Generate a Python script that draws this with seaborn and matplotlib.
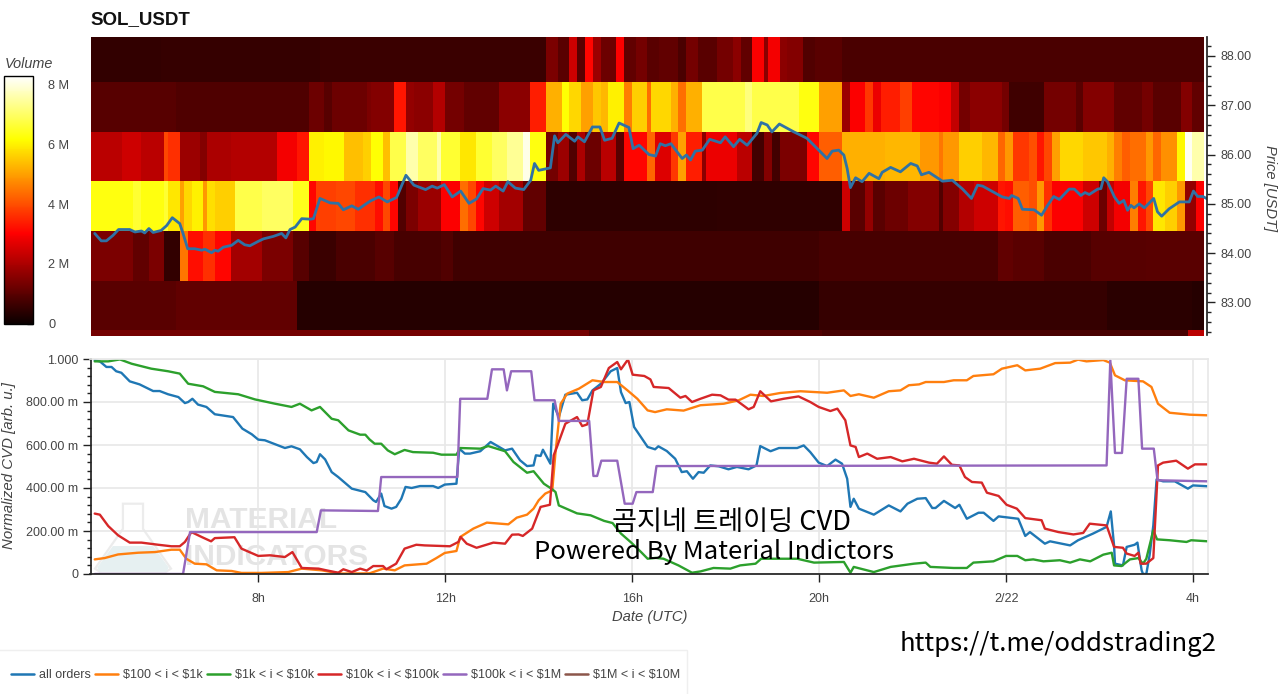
import numpy as np
import pandas as pd
import matplotlib
matplotlib.use("Agg")
import matplotlib.pyplot as plt
from matplotlib.lines import Line2D
from matplotlib.patches import Polygon, Rectangle
from matplotlib.ticker import MultipleLocator, FixedLocator
import seaborn as sns

# heatmap rows: start hour of each run and volume (millions), top row first
row_a_start = [4.41, 5.9, 9.3, 14.09, 14.33, 14.58, 14.76, 14.91, 15.08, 15.29, 15.58, 15.76, 16.01, 16.26, 16.51, 16.93, 17.08, 17.39, 17.78, 18.1, 18.28, 18.57, 18.75, 18.89, 19.09, 19.26, 19.6, 19.89, 20.42]
row_a_vol = [0.5, 0.55, 0.6, 1.4, 1.0, 2.4, 1.0, 3.1, 1.8, 1.2, 3.0, 1.1, 1.3, 1.0, 1.1, 0.8, 1.3, 1.0, 1.3, 1.6, 1.1, 3.0, 1.6, 2.9, 1.6, 1.5, 0.9, 1.0, 0.78]
row_b_start = [4.41, 6.2, 9.07, 9.36, 9.57, 10.29, 10.4, 10.9, 11.08, 11.26, 11.72, 11.94, 12.4, 13.11, 13.76, 14.09, 14.44, 14.59, 14.9, 15.08, 15.26, 15.44, 15.76, 15.94, 16.26, 16.4, 16.49, 16.75, 16.93, 17.08, 17.42, 18.39, 18.57, 19.53, 19.92, 20.42, 20.58, 20.96, 21.09, 21.26, 21.74, 21.92, 22.5, 22.75, 22.93, 23.18, 23.89, 24.07, 24.75, 25.46, 25.6, 26.25, 26.89, 27.1, 27.74, 27.96]
row_b_vol = [0.95, 0.85, 1.2, 0.95, 1.2, 1.4, 1.5, 3.3, 1.7, 1.6, 2.1, 1.3, 1.1, 1.6, 3.4, 5.2, 6.2, 5.7, 5.0, 5.5, 5.3, 6.0, 4.6, 5.6, 4.4, 5.7, 5.7, 5.2, 4.4, 5.2, 6.8, 7.2, 6.8, 6.3, 5.0, 1.8, 3.0, 3.7, 2.8, 3.4, 3.8, 3.1, 3.0, 2.3, 1.3, 1.6, 1.3, 0.65, 1.3, 1.0, 1.5, 1.1, 1.3, 1.0, 1.5, 1.1]
row_c_start = [4.41, 5.07, 5.43, 5.91, 6.07, 6.25, 6.71, 6.89, 7.36, 8.39, 8.75, 9.07, 9.36, 9.75, 10.21, 10.4, 10.58, 10.76, 11.08, 11.4, 11.76, 11.9, 12.27, 12.58, 12.97, 13.29, 13.58, 13.76, 14.09, 14.4, 14.58, 14.76, 14.91, 15.29, 15.58, 15.76, 16.26, 16.44, 16.75, 16.93, 17.08, 17.42, 17.57, 18.17, 18.57, 18.75, 18.92, 19.09, 19.74, 19.92, 20.42, 21.39, 22.1, 22.5, 22.6, 22.93, 23.46, 23.76, 23.92, 24.09, 24.42, 24.6, 24.76, 24.92, 25.09, 25.6, 26.1, 26.28, 26.44, 26.6, 26.92, 27.1, 27.28, 27.6, 27.76, 27.96]
row_c_vol = [2.2, 2.4, 2.2, 3.9, 3.6, 1.8, 1.5, 2.0, 2.1, 2.9, 3.3, 6.0, 6.1, 5.4, 5.6, 6.2, 5.4, 6.8, 7.6, 7.0, 7.6, 6.6, 5.9, 6.6, 7.0, 7.4, 8.1, 6.3, 1.3, 1.8, 0.9, 2.0, 1.2, 2.2, 1.0, 3.1, 4.3, 2.6, 3.7, 5.0, 3.4, 1.6, 2.8, 2.2, 0.7, 1.5, 0.7, 1.4, 3.1, 4.2, 5.2, 5.3, 4.9, 4.5, 4.9, 5.6, 5.3, 4.3, 4.9, 3.7, 4.0, 3.3, 3.9, 5.0, 5.7, 5.5, 5.2, 4.6, 4.2, 4.4, 4.9, 4.3, 4.8, 6.1, 8.2, 7.6]
row_d_start = [4.41, 5.29, 5.43, 5.91, 6.07, 6.25, 6.39, 6.57, 6.75, 6.89, 7.07, 7.43, 8.07, 8.71, 9.07, 9.21, 9.64, 10.04, 10.46, 10.58, 10.76, 10.91, 11.08, 11.4, 11.9, 12.26, 12.41, 12.58, 12.76, 13.11, 13.58, 14.09, 17.75, 20.42, 20.58, 20.96, 21.09, 21.39, 21.89, 22.5, 22.6, 22.93, 23.28, 23.76, 23.92, 24.09, 24.42, 24.6, 24.76, 24.92, 25.6, 25.96, 26.1, 26.28, 26.6, 26.78, 26.92, 27.1, 27.39, 27.6, 27.76, 28.0]
row_d_vol = [6.3, 6.6, 6.3, 6.6, 5.9, 5.0, 5.7, 6.0, 4.9, 5.8, 5.6, 6.8, 7.0, 6.4, 3.1, 3.8, 3.9, 3.6, 3.2, 3.9, 3.1, 0.9, 1.4, 1.8, 3.0, 4.4, 3.9, 3.1, 2.4, 1.9, 1.1, 0.45, 0.48, 2.4, 1.0, 1.7, 1.0, 1.2, 1.5, 0.9, 1.5, 2.1, 2.4, 3.3, 3.2, 4.2, 4.0, 4.9, 3.6, 3.0, 2.4, 1.2, 2.3, 2.9, 4.6, 3.3, 3.9, 5.9, 5.6, 4.9, 1.7, 3.0]
row_e_start = [4.41, 5.29, 5.65, 5.92, 6.25, 6.43, 6.79, 7.07, 7.39, 8.07, 8.71, 9.07, 9.64, 10.46, 10.9, 11.83, 12.1, 19.96, 23.75, 24.1, 24.75, 25.8, 26.97]
row_e_vol = [1.4, 1.1, 1.4, 0.5, 4.5, 3.2, 3.6, 3.1, 1.9, 1.4, 0.95, 0.6, 0.8, 0.95, 0.75, 0.9, 0.65, 0.75, 1.1, 1.0, 0.8, 0.95, 1.0]
row_f_start = [4.41, 6.2, 8.75, 19.92, 26.08, 27.96]
row_f_vol = [1.0, 1.1, 0.33, 0.52, 0.42, 0.35]
row_g_start = [4.41, 15.0, 20.0, 27.85]
row_g_vol = [1.3, 0.9, 0.75, 2.2]

vol_ticks = [0, 2, 4, 6, 8]
vol_labels = ["0", "2 M", "4 M", "6 M", "8 M"]

price_hours = [4.5, 4.64, 4.75, 4.89, 5.01, 5.25, 5.36, 5.5, 5.57, 5.66, 5.75, 5.92, 6.04, 6.16, 6.32, 6.39, 6.49, 6.64, 6.79, 6.86, 7.0, 7.07, 7.14, 7.25, 7.43, 7.57, 7.71, 7.82, 8.0, 8.11, 8.32, 8.5, 8.59, 8.68, 8.79, 8.93, 9.11, 9.18, 9.32, 9.44, 9.54, 9.71, 9.82, 10.0, 10.14, 10.29, 10.4, 10.58, 10.76, 10.96, 11.16, 11.33, 11.58, 11.72, 11.83, 11.98, 12.15, 12.33, 12.51, 12.67, 12.81, 12.97, 13.08, 13.24, 13.34, 13.5, 13.68, 13.83, 13.91, 14.0, 14.25, 14.34, 14.41, 14.58, 14.77, 14.84, 14.98, 15.15, 15.31, 15.41, 15.57, 15.72, 15.93, 16.02, 16.15, 16.36, 16.5, 16.6, 16.71, 16.83, 17.07, 17.16, 17.25, 17.35, 17.5, 17.66, 17.89, 17.99, 18.17, 18.3, 18.46, 18.67, 18.76, 18.89, 18.99, 19.15, 19.46, 19.57, 19.74, 19.92, 20.17, 20.28, 20.42, 20.53, 20.6, 20.67, 20.78, 20.92, 21.07, 21.28, 21.35, 21.53, 21.74, 21.96, 22.1, 22.19, 22.35, 22.64, 22.85, 23.07, 23.26, 23.39, 23.5, 23.75, 23.92, 24.07, 24.12, 24.26, 24.35, 24.6, 24.76, 24.89, 25.02, 25.14, 25.35, 25.46, 25.6, 25.69, 25.78, 25.96, 26.03, 26.09, 26.17, 26.32, 26.42, 26.52, 26.6, 26.67, 26.74, 26.85, 26.96, 27.16, 27.24, 27.33, 27.49, 27.71, 27.92, 28.01, 28.1, 28.21, 28.33]
price_usdt = [84.4, 84.25, 84.25, 84.36, 84.48, 84.48, 84.43, 84.45, 84.41, 84.5, 84.42, 84.46, 84.56, 84.72, 84.6, 84.4, 84.09, 84.09, 84.06, 84.08, 84.01, 84.06, 84.04, 84.12, 84.16, 84.26, 84.17, 84.15, 84.24, 84.29, 84.34, 84.4, 84.31, 84.48, 84.53, 84.7, 84.69, 84.7, 85.11, 85.06, 85.02, 85.01, 84.88, 84.96, 84.89, 84.99, 85.06, 85.14, 85.04, 85.13, 85.58, 85.38, 85.29, 85.36, 85.32, 85.39, 85.14, 85.26, 85.01, 85.1, 85.31, 85.28, 85.36, 85.26, 85.45, 85.32, 85.29, 85.48, 85.82, 85.68, 85.73, 86.38, 86.24, 86.41, 86.27, 86.36, 86.26, 86.56, 86.56, 86.29, 86.33, 86.64, 86.55, 86.12, 86.19, 86.0, 85.97, 86.22, 86.18, 86.22, 85.92, 85.99, 85.89, 86.07, 86.09, 86.31, 86.24, 86.36, 86.16, 86.31, 86.19, 86.43, 86.65, 86.6, 86.46, 86.62, 86.46, 86.41, 86.33, 86.16, 85.92, 86.07, 86.09, 85.99, 85.72, 85.33, 85.53, 85.45, 85.62, 85.51, 85.64, 85.74, 85.65, 85.82, 85.77, 85.59, 85.64, 85.46, 85.48, 85.3, 85.11, 85.38, 85.36, 85.23, 85.14, 85.11, 85.17, 85.11, 84.89, 84.88, 84.77, 84.97, 85.15, 85.09, 85.3, 85.3, 85.17, 85.23, 85.19, 85.3, 85.31, 85.53, 85.45, 85.14, 85.01, 85.07, 84.87, 84.97, 84.92, 85.0, 84.92, 85.11, 84.84, 84.75, 84.9, 85.04, 85.04, 85.26, 85.15, 85.15, 85.09]

all_hours = [4.5, 4.61, 4.75, 4.86, 4.96, 5.07, 5.25, 5.46, 5.75, 5.89, 6.07, 6.29, 6.43, 6.5, 6.59, 6.71, 6.89, 7.07, 7.46, 7.66, 7.86, 8.0, 8.14, 8.57, 8.71, 8.89, 9.04, 9.18, 9.25, 9.32, 9.43, 9.57, 9.71, 10.0, 10.29, 10.46, 10.52, 10.63, 10.7, 10.85, 10.95, 11.06, 11.15, 11.28, 11.46, 11.74, 11.85, 11.99, 12.24, 12.3, 12.42, 12.53, 12.75, 12.97, 13.28, 13.43, 13.6, 13.75, 13.89, 13.94, 14.04, 14.09, 14.25, 14.31, 14.43, 14.57, 14.82, 14.93, 15.04, 15.15, 15.33, 15.54, 15.68, 15.76, 15.86, 15.94, 16.04, 16.33, 16.49, 16.56, 16.74, 16.92, 17.06, 17.17, 17.3, 17.42, 17.53, 17.67, 17.85, 18.06, 18.24, 18.49, 18.66, 18.74, 18.96, 19.14, 19.53, 19.67, 19.81, 19.99, 20.17, 20.35, 20.49, 20.6, 20.67, 20.74, 20.85, 21.17, 21.49, 21.74, 21.89, 22.1, 22.28, 22.42, 22.49, 22.67, 22.91, 23.0, 23.16, 23.41, 23.52, 23.73, 23.84, 24.26, 24.41, 24.51, 24.83, 24.94, 25.37, 25.54, 25.86, 26.15, 26.24, 26.31, 26.33, 26.5, 26.58, 26.75, 26.81, 26.9, 26.93, 27.0, 27.07, 27.15, 27.22, 27.36, 27.61, 27.89, 28.0, 28.32]
all_cvd = [0.994, 0.989, 0.963, 0.963, 0.943, 0.936, 0.896, 0.882, 0.851, 0.851, 0.836, 0.823, 0.795, 0.8, 0.815, 0.788, 0.777, 0.743, 0.73, 0.676, 0.65, 0.625, 0.622, 0.586, 0.594, 0.58, 0.544, 0.516, 0.521, 0.557, 0.533, 0.474, 0.451, 0.397, 0.381, 0.343, 0.335, 0.374, 0.316, 0.304, 0.312, 0.35, 0.405, 0.4, 0.409, 0.409, 0.4, 0.416, 0.42, 0.583, 0.56, 0.56, 0.571, 0.614, 0.575, 0.583, 0.529, 0.502, 0.505, 0.552, 0.549, 0.578, 0.513, 0.792, 0.73, 0.834, 0.843, 0.808, 0.812, 0.854, 0.885, 0.943, 0.958, 0.846, 0.795, 0.8, 0.684, 0.591, 0.58, 0.594, 0.572, 0.536, 0.474, 0.478, 0.443, 0.474, 0.471, 0.505, 0.501, 0.487, 0.498, 0.487, 0.505, 0.595, 0.571, 0.586, 0.586, 0.598, 0.567, 0.518, 0.502, 0.532, 0.513, 0.443, 0.312, 0.35, 0.304, 0.276, 0.319, 0.291, 0.327, 0.35, 0.353, 0.307, 0.307, 0.34, 0.307, 0.322, 0.257, 0.285, 0.285, 0.247, 0.268, 0.257, 0.177, 0.195, 0.141, 0.152, 0.133, 0.157, 0.188, 0.219, 0.291, 0.133, 0.048, 0.04, 0.126, 0.136, 0.146, 0.017, 0.0, 0.0, 0.087, 0.226, 0.44, 0.431, 0.431, 0.397, 0.412, 0.408]

small_hours = [4.5, 4.71, 5.0, 5.43, 5.79, 6.14, 6.32, 6.46, 6.64, 6.89, 7.11, 7.43, 7.64, 8.07, 8.64, 8.93, 9.36, 9.57, 9.79, 10.38, 10.67, 10.92, 11.13, 11.6, 11.81, 11.99, 12.24, 12.32, 12.6, 12.89, 13.35, 13.53, 13.75, 13.89, 14.0, 14.14, 14.29, 14.36, 14.47, 14.61, 14.86, 15.15, 15.4, 15.68, 15.9, 16.11, 16.33, 16.49, 16.74, 17.1, 17.46, 17.96, 18.28, 18.53, 18.81, 19.17, 19.6, 20.17, 20.53, 20.67, 20.85, 21.17, 21.49, 21.74, 21.92, 22.14, 22.28, 22.67, 22.88, 23.16, 23.3, 23.73, 23.91, 24.24, 24.41, 24.73, 25.05, 25.37, 25.54, 25.72, 26.08, 26.22, 26.33, 26.54, 26.93, 27.11, 27.25, 27.5, 27.93, 28.32]
small_cvd = [0.068, 0.074, 0.091, 0.099, 0.102, 0.113, 0.113, 0.071, 0.048, 0.045, 0.017, 0.014, 0.005, 0.005, 0.009, 0.025, 0.017, 0.009, 0.002, 0.003, 0.025, 0.017, 0.04, 0.048, 0.074, 0.098, 0.107, 0.172, 0.211, 0.239, 0.231, 0.262, 0.276, 0.304, 0.343, 0.374, 0.389, 0.567, 0.792, 0.839, 0.862, 0.901, 0.893, 0.893, 0.854, 0.815, 0.761, 0.753, 0.766, 0.76, 0.785, 0.792, 0.808, 0.834, 0.828, 0.842, 0.85, 0.843, 0.854, 0.828, 0.836, 0.82, 0.85, 0.854, 0.878, 0.882, 0.893, 0.893, 0.901, 0.901, 0.921, 0.929, 0.955, 0.971, 0.947, 0.955, 0.981, 0.983, 0.997, 0.989, 0.995, 0.983, 0.924, 0.901, 0.896, 0.87, 0.792, 0.75, 0.741, 0.738]

mid_hours = [4.5, 4.79, 5.04, 5.29, 5.71, 6.07, 6.32, 6.5, 6.82, 7.07, 7.57, 7.93, 8.36, 8.71, 8.89, 9.14, 9.32, 9.57, 9.71, 9.93, 10.18, 10.29, 10.38, 10.49, 10.63, 10.77, 10.92, 11.13, 11.31, 11.74, 11.92, 12.24, 12.32, 12.75, 12.92, 13.28, 13.46, 13.75, 13.89, 14.11, 14.29, 14.36, 14.43, 14.82, 15.11, 15.4, 15.58, 15.76, 15.98, 16.19, 16.33, 16.51, 16.67, 16.99, 17.28, 17.46, 17.74, 18.1, 18.31, 18.64, 18.76, 19.53, 19.89, 20.53, 20.67, 20.74, 21.17, 21.53, 22.03, 22.28, 22.38, 22.88, 23.16, 23.3, 23.73, 24.0, 24.24, 24.41, 24.58, 24.8, 25.15, 25.37, 25.58, 25.8, 26.08, 26.26, 26.31, 26.47, 26.65, 26.83, 26.93, 27.0, 27.15, 27.23, 27.5, 27.86, 27.96, 28.32]
mid_cvd = [0.989, 0.989, 0.998, 0.978, 0.955, 0.943, 0.932, 0.885, 0.873, 0.847, 0.836, 0.812, 0.792, 0.777, 0.792, 0.761, 0.777, 0.722, 0.715, 0.668, 0.648, 0.648, 0.626, 0.606, 0.606, 0.575, 0.557, 0.577, 0.567, 0.564, 0.555, 0.555, 0.586, 0.583, 0.595, 0.571, 0.521, 0.471, 0.478, 0.42, 0.394, 0.381, 0.319, 0.282, 0.273, 0.247, 0.237, 0.188, 0.146, 0.102, 0.071, 0.075, 0.071, 0.04, 0.006, 0.012, 0.028, 0.025, 0.04, 0.048, 0.071, 0.071, 0.053, 0.056, 0.006, 0.033, 0.009, 0.033, 0.048, 0.053, 0.033, 0.028, 0.028, 0.053, 0.059, 0.084, 0.084, 0.064, 0.068, 0.059, 0.064, 0.053, 0.068, 0.059, 0.09, 0.099, 0.04, 0.037, 0.068, 0.074, 0.048, 0.071, 0.203, 0.161, 0.157, 0.149, 0.157, 0.152]

big_hours = [4.5, 4.61, 4.79, 5.0, 5.25, 5.5, 5.86, 6.14, 6.32, 6.43, 6.57, 6.79, 6.99, 7.07, 7.49, 7.64, 8.0, 8.25, 8.57, 8.73, 8.93, 9.29, 9.46, 9.71, 9.82, 10.0, 10.18, 10.32, 10.46, 10.67, 10.74, 10.95, 11.13, 11.38, 11.56, 12.1, 12.28, 12.33, 12.46, 12.67, 13.03, 13.28, 13.43, 13.57, 13.66, 13.86, 14.04, 14.24, 14.32, 14.39, 14.57, 14.82, 14.93, 15.04, 15.17, 15.33, 15.5, 15.68, 15.76, 15.91, 16.01, 16.26, 16.39, 16.46, 16.78, 17.03, 17.14, 17.28, 17.46, 17.71, 17.89, 18.06, 18.21, 18.49, 18.6, 18.74, 18.97, 19.24, 19.56, 19.81, 19.99, 20.24, 20.39, 20.56, 20.67, 20.78, 20.85, 21.03, 21.24, 21.53, 21.78, 22.03, 22.35, 22.52, 22.67, 22.84, 23.0, 23.12, 23.27, 23.48, 23.59, 23.84, 24.01, 24.23, 24.41, 24.76, 24.83, 25.12, 25.44, 25.65, 25.79, 26.15, 26.31, 26.5, 26.58, 26.75, 26.83, 26.88, 27.0, 27.15, 27.25, 27.36, 27.64, 27.89, 28.04, 28.32]
big_cvd = [0.281, 0.276, 0.223, 0.18, 0.146, 0.146, 0.136, 0.129, 0.129, 0.149, 0.195, 0.172, 0.152, 0.167, 0.171, 0.118, 0.084, 0.087, 0.079, 0.102, 0.028, 0.025, 0.017, 0.006, 0.022, 0.009, 0.025, 0.016, 0.037, 0.037, 0.022, 0.048, 0.118, 0.136, 0.133, 0.129, 0.149, 0.172, 0.141, 0.122, 0.146, 0.141, 0.183, 0.184, 0.177, 0.211, 0.312, 0.322, 0.552, 0.591, 0.699, 0.73, 0.688, 0.696, 0.854, 0.87, 0.958, 0.986, 0.952, 0.998, 0.927, 0.921, 0.905, 0.87, 0.865, 0.82, 0.828, 0.8, 0.815, 0.834, 0.831, 0.811, 0.811, 0.766, 0.777, 0.85, 0.803, 0.815, 0.826, 0.8, 0.777, 0.758, 0.769, 0.715, 0.598, 0.591, 0.544, 0.56, 0.536, 0.544, 0.524, 0.536, 0.518, 0.513, 0.547, 0.508, 0.505, 0.451, 0.428, 0.425, 0.378, 0.363, 0.322, 0.304, 0.26, 0.25, 0.211, 0.195, 0.184, 0.191, 0.234, 0.226, 0.126, 0.122, 0.095, 0.084, 0.099, 0.048, 0.048, 0.074, 0.505, 0.518, 0.527, 0.49, 0.51, 0.51]

whale_hours = [4.5, 6.39, 6.54, 9.25, 9.34, 10.56, 10.63, 12.26, 12.32, 12.9, 13.0, 13.25, 13.32, 13.41, 13.84, 13.91, 14.34, 14.43, 15.08, 15.17, 15.25, 15.34, 15.68, 15.84, 16.01, 16.09, 16.44, 16.52, 26.15, 26.23, 26.33, 26.48, 26.58, 26.83, 26.91, 27.16, 27.24, 28.32]
whale_cvd = [0.0, 0.0, 0.195, 0.195, 0.296, 0.293, 0.451, 0.451, 0.815, 0.815, 0.952, 0.952, 0.854, 0.943, 0.943, 0.808, 0.808, 0.712, 0.712, 0.456, 0.456, 0.527, 0.527, 0.327, 0.327, 0.381, 0.381, 0.502, 0.505, 0.994, 0.563, 0.563, 0.908, 0.908, 0.583, 0.583, 0.436, 0.431]

series_names = ["all orders", r"\$100 < i < \$1k", r"\$1k < i < \$10k", r"\$10k < i < \$100k", r"\$100k < i < \$1M", r"\$1M < i < \$10M"]
cvd_ticks = [0, 0.2, 0.4, 0.6, 0.8, 1.0]
cvd_labels = ["0", "200.00 m", "400.00 m", "600.00 m", "800.00 m", "1.000"]
hour_ticks = [8, 12, 16, 20, 24, 28]
hour_labels = ["8h", "12h", "16h", "20h", "2/22", "4h"]

sns.set_theme(style="white")
plt.rcParams['font.family'] = ['Liberation Sans', 'DejaVu Sans']
plt.rcParams['axes.unicode_minus'] = False

W, H = 1280, 694
TXT = "#444444"
KR = ['Noto Sans CJK KR', 'DejaVu Sans']


def rect(left, top, right, bottom):
    return [left / W, 1 - bottom / H, (right - left) / W, (bottom - top) / H]


def expand(starts, vols, hours):
    idx = np.searchsorted(starts, hours, side='right') - 1
    return np.array(vols)[idx]


fig = plt.figure(figsize=(W / 100, H / 100), dpi=100)

# heatmap, 5 min columns
col_hours = np.arange(4.41, 28.24, 5 / 60)
heat = pd.DataFrame([
    expand(row_a_start, row_a_vol, col_hours),
    expand(row_b_start, row_b_vol, col_hours),
    expand(row_c_start, row_c_vol, col_hours),
    expand(row_d_start, row_d_vol, col_hours),
    expand(row_e_start, row_e_vol, col_hours),
    expand(row_f_start, row_f_vol, col_hours),
    expand(row_g_start, row_g_vol, col_hours),
])
ax_heat = fig.add_axes(rect(90.5, 37, 1204, 335.5))
cax = fig.add_axes(rect(4, 76, 33, 323.5))
sns.heatmap(heat, ax=ax_heat, cbar_ax=cax, cmap='hot', vmin=0, vmax=8.3,
            xticklabels=False, yticklabels=False, rasterized=True,
            cbar_kws={'ticks': vol_ticks})
ax_heat.set_ylim(6.11, 0.083)
cb = ax_heat.collections[0].colorbar
cb.outline.set_visible(True)
cb.outline.set_linewidth(1)
cb.outline.set_edgecolor('black')
cax.set_yticklabels(vol_labels)
cax.tick_params(axis='y', direction='in', length=4, width=1, color='#333333',
                pad=11, labelsize=9.2, labelcolor=TXT, right=True)
fig.text(5 / W, 1 - 64 / H, "Volume", style='italic', fontsize=10.4, color=TXT, va='center')
fig.text(90 / W, 1 - 20 / H, "SOL_USDT", fontweight='bold', fontsize=13.5, color='#111111', va='center')

# price line on its own overlay axis
ax_price = fig.add_axes(rect(90.5, 37, 1207, 335.5))
ax_price.patch.set_visible(False)
sns.lineplot(x=price_hours, y=price_usdt, ax=ax_price, color='#2f72a5', linewidth=2.0,
             estimator=None, sort=False, legend=False, solid_joinstyle='round')
ax_price.set_xlim(4.41, 28.30)
ax_price.set_ylim(82.33, 88.385)
ax_price.set_xticks([])
ax_price.set_xlabel("")
ax_price.set_ylabel("")
for side in ['top', 'left', 'bottom']:
    ax_price.spines[side].set_visible(False)
ax_price.spines['right'].set_color('#222222')
ax_price.yaxis.tick_right()
ax_price.yaxis.set_major_locator(FixedLocator([83, 84, 85, 86, 87, 88]))
ax_price.yaxis.set_minor_locator(MultipleLocator(0.2))
ax_price.set_yticklabels(["83.00", "84.00", "85.00", "86.00", "87.00", "88.00"])
ax_price.tick_params(axis='y', which='major', direction='out', length=5.5, width=1,
                     color='#222222', labelsize=9, labelcolor=TXT, pad=4, right=True)
ax_price.tick_params(axis='y', which='minor', direction='out', length=3, width=1,
                     color='#222222', right=True)
fig.text(1270 / W, 1 - 188 / H, "Price [USDT]", style='italic', rotation=270, fontsize=10.6,
         color=TXT, ha='center', va='center')

# CVD panel
ax = fig.add_axes(rect(90.5, 359, 1208, 574))
ax.set_xlim(4.41, 28.32)
ax.set_ylim(0, 1)

# watermark behind the lines
ax.add_patch(Polygon([(0.010, 0.005), (0.066, 0.005), (0.072, 0.025), (0.047, 0.21), (0.047, 0.327),
                      (0.029, 0.327), (0.029, 0.21), (0.004, 0.025)],
                     closed=True, transform=ax.transAxes, facecolor='none', edgecolor='#ececec',
                     linewidth=1.6, zorder=0))
ax.add_patch(Polygon([(0.008, 0.01), (0.068, 0.01), (0.070, 0.03), (0.056, 0.13), (0.02, 0.13), (0.006, 0.03)],
                     closed=True, transform=ax.transAxes, facecolor='#e6f0f1', edgecolor='none', zorder=0))
ax.text(0.0846, 0.25, "MATERIAL", transform=ax.transAxes, fontsize=21.5, fontweight='bold',
        color='#e4e4e4', va='center', zorder=0)
ax.text(0.0846, 0.08, "INDICATORS", transform=ax.transAxes, fontsize=21.5, fontweight='bold',
        color='#e4e4e4', va='center', zorder=0)

palette = sns.color_palette('tab10', 6)
series = [(all_hours, all_cvd), (small_hours, small_cvd), (mid_hours, mid_cvd),
          (big_hours, big_cvd), (whale_hours, whale_cvd)]
for (xs, ys), col in zip(series, palette):
    sns.lineplot(x=xs, y=ys, ax=ax, color=col, linewidth=1.7, estimator=None, sort=False, legend=False,
                 solid_joinstyle='round')

ax.set_xlabel("")
ax.set_ylabel("")
ax.set_xticks(hour_ticks)
ax.set_xticklabels(hour_labels)
ax.set_yticks(cvd_ticks)
ax.set_yticklabels(cvd_labels)
ax.yaxis.set_minor_locator(MultipleLocator(0.04))
ax.grid(True, which='major', color='#e8e8e8', linewidth=1.2)
ax.set_axisbelow(True)
ax.tick_params(axis='both', which='major', direction='out', length=5.5, width=1, color='#222222',
               labelsize=9, labelcolor=TXT, bottom=True, left=True)
ax.tick_params(axis='x', pad=8)
ax.tick_params(axis='y', which='minor', direction='out', length=3, width=1, color='#222222', left=True)
for side in ['top', 'right']:
    ax.spines[side].set_color('#e8e8e8')
for side in ['left', 'bottom']:
    ax.spines[side].set_color('#222222')
fig.text(9 / W, 1 - 466 / H, "Normalized CVD [arb. u.]", style='italic', rotation=90, fontsize=10.8,
         color=TXT, ha='center', va='center')
fig.text(650 / W, 1 - 617 / H, "Date (UTC)", style='italic', fontsize=10.6, color=TXT, ha='center', va='center')

# legend with thin box
fig.add_artist(Rectangle((-5 / W, -5 / H), 692 / W, 49 / H, transform=fig.transFigure,
                         facecolor='white', edgecolor='#efefef', linewidth=1))
handles = [Line2D([], [], color=c, linewidth=1.8) for c in palette]
fig.legend(handles, series_names, ncols=6, loc='center left', bbox_to_anchor=(0, 1 - 675 / H),
           frameon=False, fontsize=9, labelcolor=TXT, handlelength=1.85, handletextpad=0.4,
           columnspacing=0.3, borderpad=0, borderaxespad=0.9)

# pasted captions
fig.text(731.5 / W, 1 - 522 / H, "곰지네 트레이딩 CVD", family=KR, fontsize=19.6, fontweight='medium', color='black', ha='center', va='center')
fig.text(714 / W, 1 - 552 / H, "Powered By Material Indictors", family=KR, fontsize=18.5, fontweight='medium', color='black', ha='center', va='center')
fig.text(1058.5 / W, 1 - 644 / H, "https://t.me/oddstrading2", family=KR, fontsize=18.5, fontweight='medium', color='black', ha='center', va='center')

fig.savefig("out.png", dpi=100)
